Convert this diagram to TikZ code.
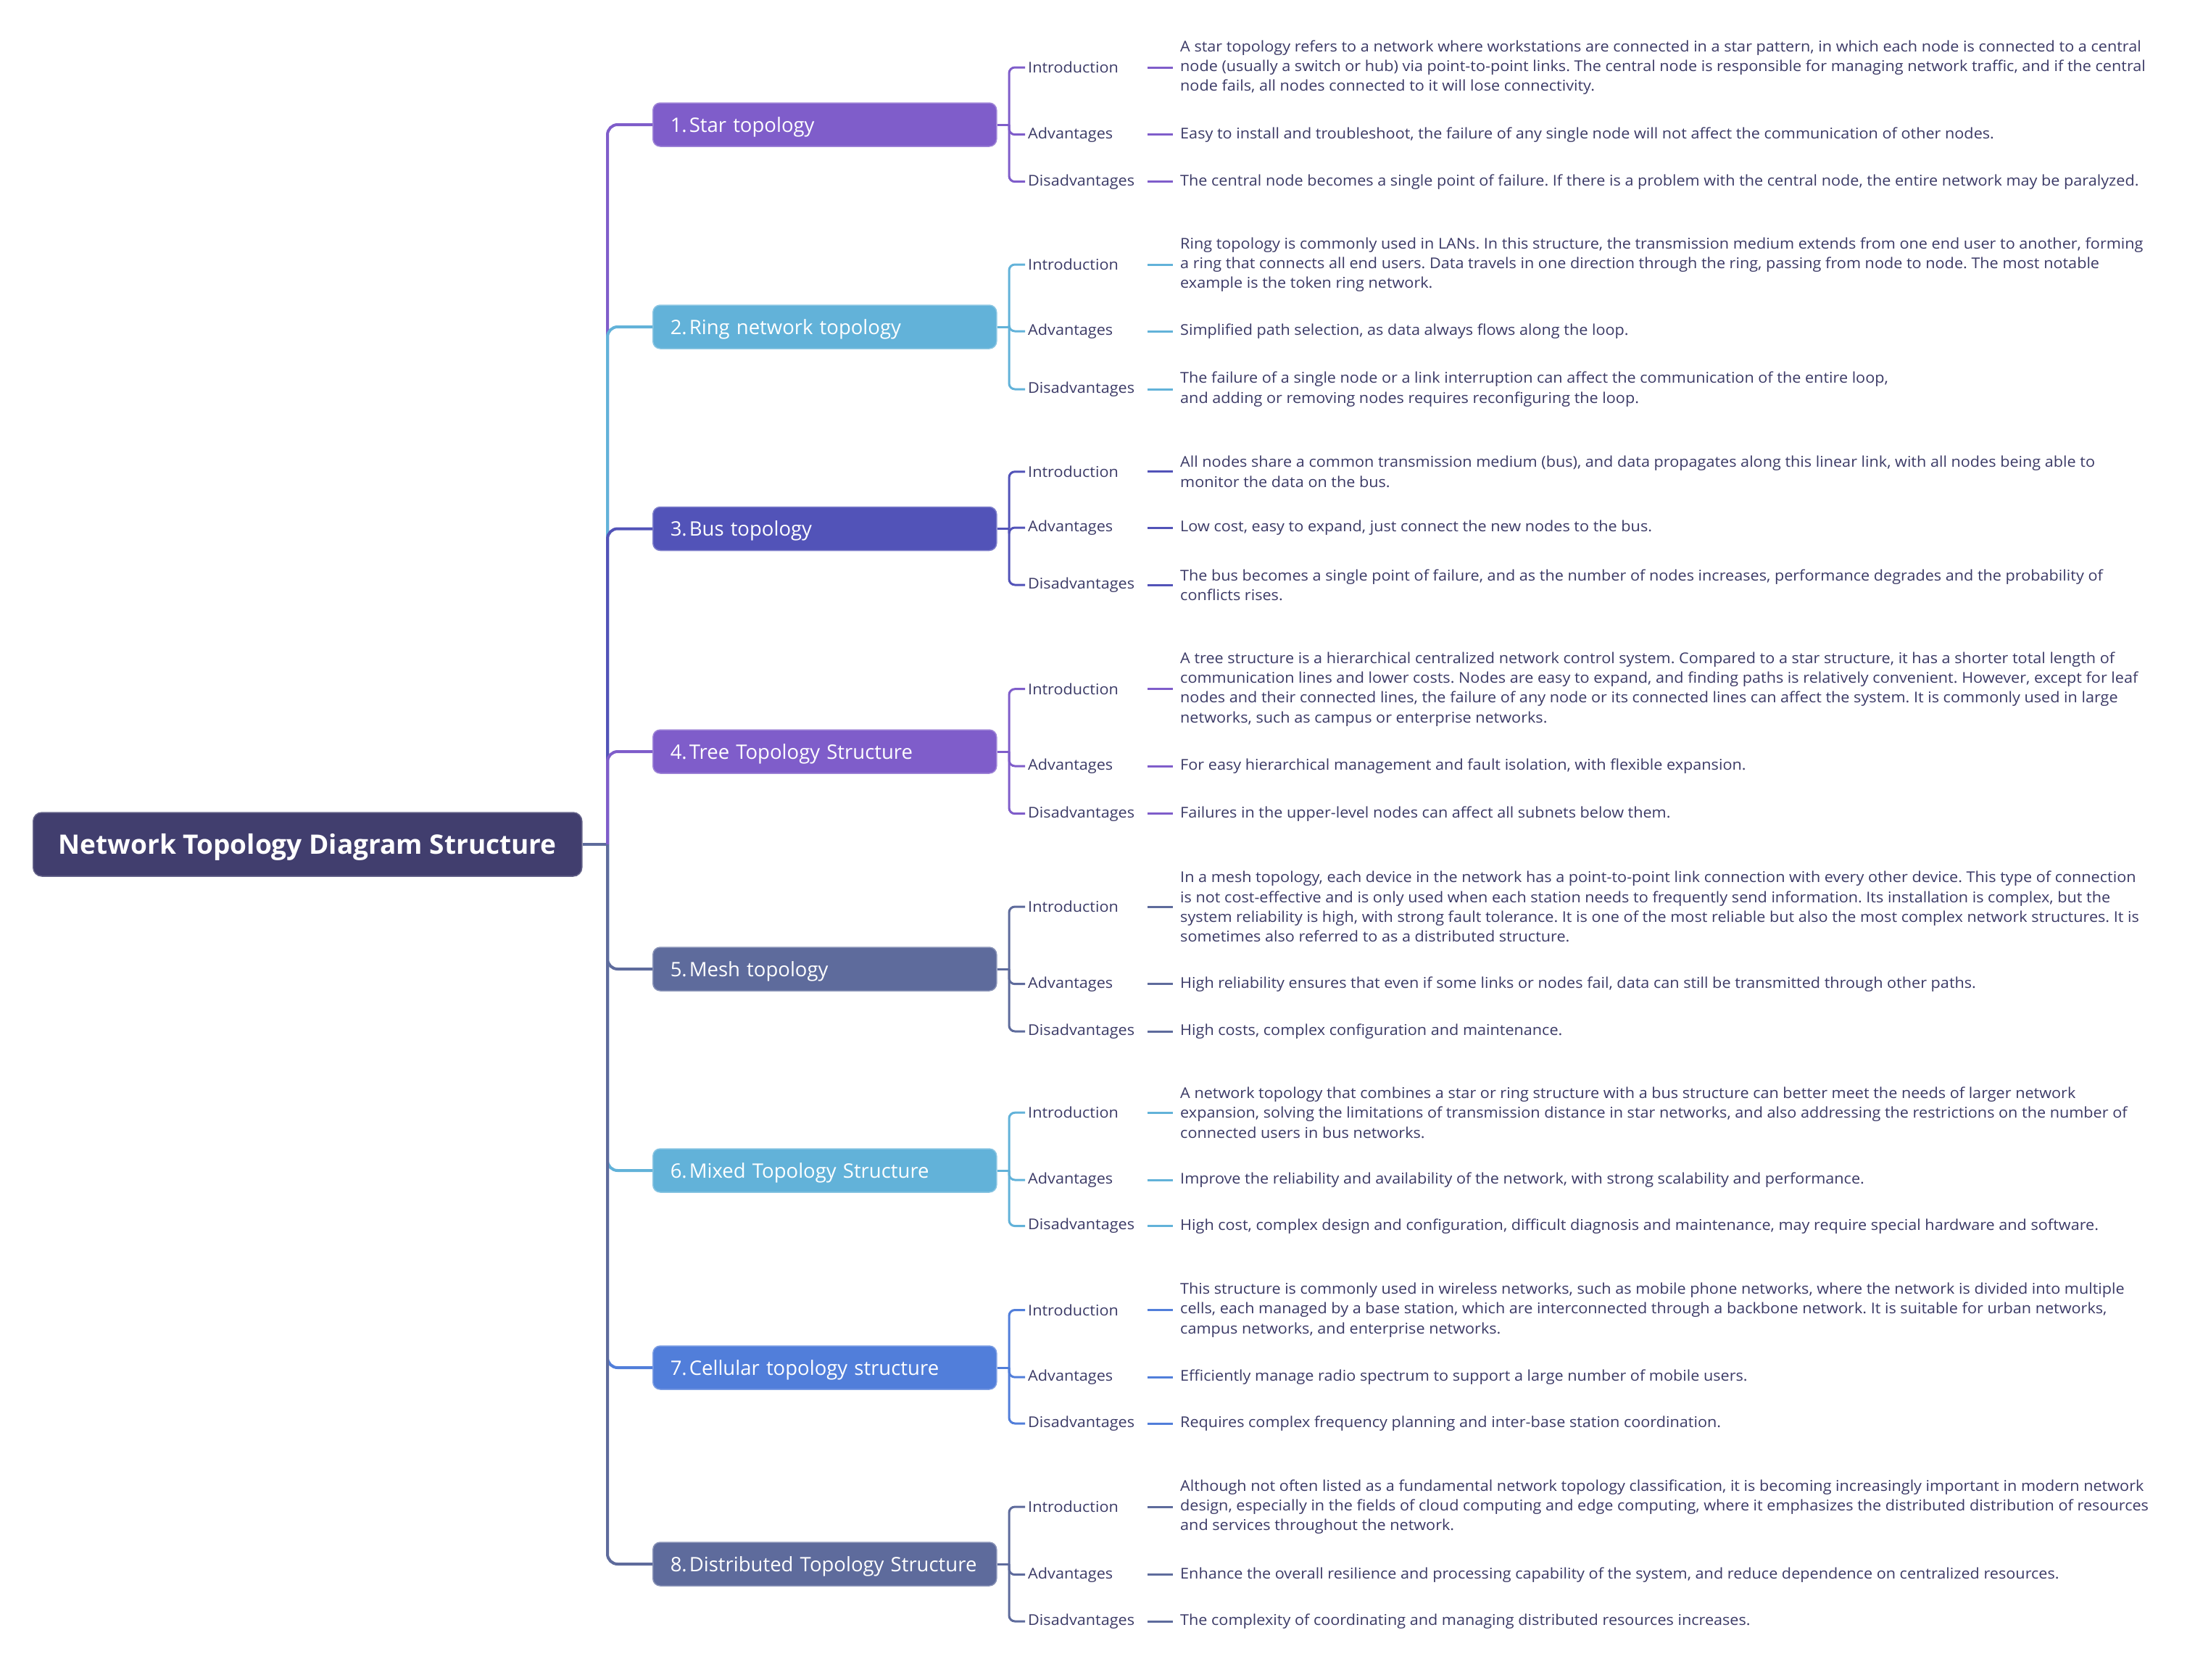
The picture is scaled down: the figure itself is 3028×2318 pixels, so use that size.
\documentclass[tikz,border=0pt]{standalone}
\usepackage{fontspec}
\setmainfont{Open Sans}
\newfontfamily\descfont[FakeStretch=1.055]{Open Sans}
\definecolor{cpurple}{HTML}{7F5DCA}
\definecolor{cblue}{HTML}{62B2D9}
\definecolor{cindigo}{HTML}{5253B8}
\definecolor{cslate}{HTML}{5E6B9C}
\definecolor{ccell}{HTML}{517EDA}
\definecolor{croot}{HTML}{413E6E}
\definecolor{ctext}{HTML}{3B3A66}
\newcommand\mmbranch[4]{%
  \node[branchbox, fill=#2, draw=#2!75!white, anchor=west] (#1) at (900,#3) {\mbox{#4}};
  \draw[trunkline, #2] (J) |- (#1.west);
  \coordinate (#1j) at (1392,#3);
  \draw[subline, #2] (#1.east) -- (#1j);
}
\newcommand\mmleaf[6]{%
  \node[leaflabel, anchor=west] (#1#2l) at (1414,#4) {#5};
  \node[leafdesc, anchor=west] (#1#2d) at (1618,#4) {#6};
  \draw[subline, #3, rounded corners=8] (#1j) |- (#1#2l.west);
  \draw[dashline, #3] (#1#2l.east) -- (#1#2d.west);
}
\frenchspacing
\begin{document}
\begin{tikzpicture}[x=1pt,y=-1pt,
  rootbox/.style={rounded corners=12, fill=croot, draw=croot!80!white, line width=1.5,
    text=white, font=\bfseries\fontsize{37pt}{44pt}\selectfont,
    minimum width=757, minimum height=88, inner sep=0, text height=27, text depth=0},
  branchbox/.style={rounded corners=10, line width=1.5, text=white,
    font=\fontsize{27.5pt}{34pt}\selectfont, text width=426, align=left,
    inner xsep=24, inner ysep=0, minimum height=60, text height=20, text depth=0},
  leaflabel/.style={text=ctext, font=\descfont\fontsize{20.5pt}{27.3pt}\selectfont,
    text width=161, align=left, inner xsep=4, inner ysep=0},
  leafdesc/.style={text=ctext, font=\descfont\fontsize{20.5pt}{27.3pt}\selectfont,
    align=left, inner xsep=10, inner ysep=0},
  trunkline/.style={line width=4, rounded corners=14},
  subline/.style={line width=3},
  dashline/.style={line width=3}]
\useasboundingbox (0,0) rectangle (3028,2318);
\node[rootbox, anchor=west] (root) at (45,1165) {Network Topology Diagram Structure};
\coordinate (J) at (838,1165);
\draw[line width=4, cslate] (root.east) -- (J);

\mmbranch{b1}{cpurple}{172}{1.\kern3pt Star topology}
\mmleaf{b1}{i}{cpurple}{93}{Introduction}{A star topology refers to a network where workstations are connected in a star pattern, in which each node is connected to a central\\node (usually a switch or hub) via point-to-point links. The central node is responsible for managing network traffic, and if the central\\node fails, all nodes connected to it will lose connectivity.}
\mmleaf{b1}{a}{cpurple}{185.7}{Advantages}{Easy to install and troubleshoot, the failure of any single node will not affect the communication of other nodes.}
\mmleaf{b1}{d}{cpurple}{250.7}{Disadvantages}{The central node becomes a single point of failure. If there is a problem with the central node, the entire network may be paralyzed.}

\mmbranch{b2}{cblue}{451}{2.\kern3pt Ring network topology}
\mmleaf{b2}{i}{cblue}{365}{Introduction}{Ring topology is commonly used in LANs. In this structure, the transmission medium extends from one end user to another, forming\\a ring that connects all end users. Data travels in one direction through the ring, passing from node to node. The most notable\\example is the token ring network.}
\mmleaf{b2}{a}{cblue}{457}{Advantages}{Simplified path selection, as data always flows along the loop.}
\mmleaf{b2}{d}{cblue}{537}{Disadvantages}{The failure of a single node or a link interruption can affect the communication of the entire loop,\\and adding or removing nodes requires reconfiguring the loop.}

\mmbranch{b3}{cindigo}{729.5}{3.\kern3pt Bus topology}
\mmleaf{b3}{i}{cindigo}{650.8}{Introduction}{All nodes share a common transmission medium (bus), and data propagates along this linear link, with all nodes being able to\\monitor the data on the bus.}
\mmleaf{b3}{a}{cindigo}{728}{Advantages}{Low cost, easy to expand, just connect the new nodes to the bus.}
\mmleaf{b3}{d}{cindigo}{807}{Disadvantages}{The bus becomes a single point of failure, and as the number of nodes increases, performance degrades and the probability of\\conflicts rises.}

\mmbranch{b4}{cpurple}{1037}{4.\kern3pt Tree Topology Structure}
\mmleaf{b4}{i}{cpurple}{950.7}{Introduction}{A tree structure is a hierarchical centralized network control system. Compared to a star structure, it has a shorter total length of\\communication lines and lower costs. Nodes are easy to expand, and finding paths is relatively convenient. However, except for leaf\\nodes and their connected lines, the failure of any node or its connected lines can affect the system. It is commonly used in large\\networks, such as campus or enterprise networks.}
\mmleaf{b4}{a}{cpurple}{1057}{Advantages}{For easy hierarchical management and fault isolation, with flexible expansion.}
\mmleaf{b4}{d}{cpurple}{1122.7}{Disadvantages}{Failures in the upper-level nodes can affect all subnets below them.}

\mmbranch{b5}{cslate}{1337}{5.\kern3pt Mesh topology}
\mmleaf{b5}{i}{cslate}{1251}{Introduction}{In a mesh topology, each device in the network has a point-to-point link connection with every other device. This type of connection\\is not cost-effective and is only used when each station needs to frequently send information. Its installation is complex, but the\\system reliability is high, with strong fault tolerance. It is one of the most reliable but also the most complex network structures. It is\\sometimes also referred to as a distributed structure.}
\mmleaf{b5}{a}{cslate}{1357.7}{Advantages}{High reliability ensures that even if some links or nodes fail, data can still be transmitted through other paths.}
\mmleaf{b5}{d}{cslate}{1423}{Disadvantages}{High costs, complex configuration and maintenance.}

\mmbranch{b6}{cblue}{1615}{6.\kern3pt Mixed Topology Structure}
\mmleaf{b6}{i}{cblue}{1535.2}{Introduction}{A network topology that combines a star or ring structure with a bus structure can better meet the needs of larger network\\expansion, solving the limitations of transmission distance in star networks, and also addressing the restrictions on the number of\\connected users in bus networks.}
\mmleaf{b6}{a}{cblue}{1628}{Advantages}{Improve the reliability and availability of the network, with strong scalability and performance.}
\mmleaf{b6}{d}{cblue}{1691.6}{Disadvantages}{High cost, complex design and configuration, difficult diagnosis and maintenance, may require special hardware and software.}

\mmbranch{b7}{ccell}{1887}{7.\kern3pt Cellular topology structure}
\mmleaf{b7}{i}{ccell}{1807.5}{Introduction}{This structure is commonly used in wireless networks, such as mobile phone networks, where the network is divided into multiple\\cells, each managed by a base station, which are interconnected through a backbone network. It is suitable for urban networks,\\campus networks, and enterprise networks.}
\mmleaf{b7}{a}{ccell}{1900.2}{Advantages}{Efficiently manage radio spectrum to support a large number of mobile users.}
\mmleaf{b7}{d}{ccell}{1964}{Disadvantages}{Requires complex frequency planning and inter-base station coordination.}

\mmbranch{b8}{cslate}{2158}{8.\kern3pt Distributed Topology Structure}
\mmleaf{b8}{i}{cslate}{2079}{Introduction}{Although not often listed as a fundamental network topology classification, it is becoming increasingly important in modern network\\design, especially in the fields of cloud computing and edge computing, where it emphasizes the distributed distribution of resources\\and services throughout the network.}
\mmleaf{b8}{a}{cslate}{2172.7}{Advantages}{Enhance the overall resilience and processing capability of the system, and reduce dependence on centralized resources.}
\mmleaf{b8}{d}{cslate}{2237}{Disadvantages}{The complexity of coordinating and managing distributed resources increases.}
\end{tikzpicture}
\end{document}
